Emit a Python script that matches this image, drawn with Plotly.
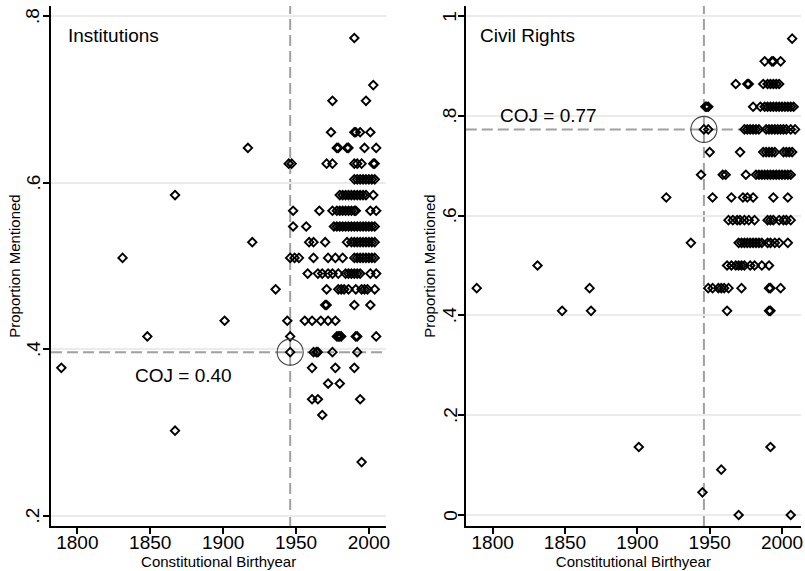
import plotly.graph_objects as go

# ---------------- Institutions panel (53 provisions) ----------------
INST_TOTAL = 53
inst_counts = [41, 38, 37, 35, 34, 33, 32, 31, 30, 29, 28, 27, 26, 25, 24, 23, 22, 21, 20, 19, 18, 17, 16, 14]
inst_years = [
    [1990],
    [2003],
    [1975, 1998],
    [1974, 1990, 1991, 1994, 2001],
    [1917, 1978, 1979, 1985, 1986, 1997, 2005],
    [1945, 1947, 1971, 1975, 1990, 1992, 1995, 2003, 2004],
    [1990, 1992, 1994, 1996, 1998, 2000, 2002, 2004],
    [1867, 1980, 1982, 1984, 1986, 1988, 1990, 1992, 1994, 1996, 1998, 2003],
    [1948, 1966, 1975, 1978, 1980, 1982, 1984, 1986, 1988, 1990, 1991, 2001, 2005],
    [1948, 1957, 1976, 1978, 1980, 1982, 1984, 1986, 1988, 1990, 1992, 1994, 1996, 1998, 2000, 2002, 2004],
    [1920, 1959, 1962, 1970, 1985, 1988, 1990, 1992, 1994, 1996, 1998, 2000, 2002, 2004],
    [1831, 1946, 1949, 1952, 1962, 1972, 1977, 1982, 1990, 1992, 1994, 1996, 1998, 2000, 2002, 2004],
    [1958, 1965, 1968, 1972, 1975, 1979, 1984, 1986, 1988, 1990, 1992, 1994, 2001, 2005],
    [1936, 1971, 1979, 1981, 1983, 1986, 1991, 1995, 1997, 1999, 2004],
    [1970, 1971, 1990, 2001],
    [1901, 1944, 1956, 1961, 1967, 1972, 1977],
    [1848, 1946, 1978, 1979, 1980, 1981, 1991, 1992, 2005],
    [1946, 1962, 1964, 1965, 1975, 1992],
    [1789, 1961, 1977, 1990],
    [1972, 1980],
    [1961, 1965, 1994],
    [1968],
    [1867],
    [1995],
]
inst_japan_year = 1946
inst_japan_count = 21

# ---------------- Civil Rights panel (22 provisions) ----------------
CR_TOTAL = 22
cr_counts = [21, 20, 19, 18, 17, 16, 15, 14, 13, 12, 11, 10, 9, 3, 2, 1, 0]
cr_years = [
    [2007],
    [1988, 1993, 1994, 1999],
    [1968, 1976, 1977, 1987, 1990, 1992, 1994, 1996, 1998],
    [1947, 1948, 1949, 1980, 1985, 1988, 1990, 1992, 1994, 1996, 1998, 2000, 2002, 2004, 2006, 2008],
    [1946, 1949, 1974, 1976, 1978, 1980, 1982, 1984, 1989, 1991, 1993, 1995, 1997, 1999, 2001, 2003, 2006, 2009],
    [1950, 1971, 1987, 1989, 1991, 1993, 1995, 2001, 2003, 2005, 2007],
    [1944, 1959, 1961, 1975, 1982, 1984, 1986, 1988, 1990, 1992, 1994, 1996, 1998, 2000, 2002, 2004, 2006],
    [1920, 1952, 1965, 1973, 1976, 1980, 1994, 2004],
    [1963, 1966, 1969, 1971, 1974, 1977, 1981, 1990, 1992, 1994, 1998, 2001, 2003, 2006],
    [1937, 1970, 1972, 1974, 1976, 1978, 1980, 1982, 1984, 1986, 1990, 1992, 1995, 1998, 2004],
    [1831, 1962, 1965, 1968, 1970, 1972, 1974, 1978, 1981, 1986, 1991],
    [1789, 1867, 1949, 1952, 1956, 1958, 1960, 1963, 1972, 1991, 1992, 1999],
    [1848, 1868, 1962, 1991, 1992],
    [1901, 1992],
    [1958],
    [1945],
    [1970, 2006],
]
cr_japan_year = 1946
cr_japan_count = 17

inst_ticks = [0.2, 0.4, 0.6, 0.8]
inst_ticktext = [".2", ".4", ".6", ".8"]
cr_ticks = [0, 0.2, 0.4, 0.6, 0.8, 1]
cr_ticktext = ["0", ".2", ".4", ".6", ".8", "1"]
year_ticks = [1800, 1850, 1900, 1950, 2000]


def flatten(counts, years, total):
    xs, ys = [], []
    for c, yrs in zip(counts, years):
        for yr in yrs:
            xs.append(yr)
            ys.append(c / total)
    return xs, ys


ix, iy = flatten(inst_counts, inst_years, INST_TOTAL)
cx, cy = flatten(cr_counts, cr_years, CR_TOTAL)
inst_coj = inst_japan_count / INST_TOTAL
cr_coj = cr_japan_count / CR_TOTAL

FONT = "Liberation Sans, Arial, Helvetica, sans-serif"
DASH_COLOR = "#a0a0a0"
marker = dict(symbol="diamond-open", size=6.5, color="black", line=dict(width=1.9, color="black"))
circle = dict(symbol="circle-open", size=26, color="#404040", line=dict(width=1.1, color="#404040"))

fig = go.Figure()
fig.add_trace(go.Scatter(x=ix, y=iy, mode="markers", marker=marker, xaxis="x", yaxis="y", showlegend=False))
fig.add_trace(go.Scatter(x=[inst_japan_year], y=[inst_coj], mode="markers", marker=circle, xaxis="x", yaxis="y", showlegend=False))
fig.add_trace(go.Scatter(x=cx, y=cy, mode="markers", marker=marker, xaxis="x2", yaxis="y2", showlegend=False))
fig.add_trace(go.Scatter(x=[cr_japan_year], y=[cr_coj], mode="markers", marker=circle, xaxis="x2", yaxis="y2", showlegend=False))

dash = "11px,5px"
shapes = [
    dict(type="line", xref="x", yref="y domain", x0=inst_japan_year, x1=inst_japan_year, y0=0, y1=1,
         line=dict(color=DASH_COLOR, width=2, dash=dash), layer="below"),
    dict(type="line", xref="x domain", yref="y", x0=0, x1=1, y0=inst_coj, y1=inst_coj,
         line=dict(color=DASH_COLOR, width=2, dash=dash), layer="below"),
    dict(type="line", xref="x2", yref="y2 domain", x0=cr_japan_year, x1=cr_japan_year, y0=0, y1=1,
         line=dict(color=DASH_COLOR, width=2, dash=dash), layer="below"),
    dict(type="line", xref="x2 domain", yref="y2", x0=0, x1=1, y0=cr_coj, y1=cr_coj,
         line=dict(color=DASH_COLOR, width=2, dash=dash), layer="below"),
]

label_font = dict(size=19, color="black", family=FONT)
annotations = [
    dict(text="Institutions", xref="x domain", yref="y domain", x=0.044, y=0.944, xanchor="left", yanchor="middle",
         showarrow=False, font=label_font),
    dict(text="COJ = 0.40", xref="x domain", yref="y domain", x=0.246, y=0.289, xanchor="left", yanchor="middle",
         showarrow=False, font=label_font),
    dict(text="Civil Rights", xref="x2 domain", yref="y2 domain", x=0.036, y=0.944, xanchor="left", yanchor="middle",
         showarrow=False, font=label_font),
    dict(text="COJ = 0.77", xref="x2 domain", yref="y2 domain", x=0.097, y=0.790, xanchor="left", yanchor="middle",
         showarrow=False, font=label_font),
]
# vertical (Stata-style) y tick labels
tick_font = dict(size=19, color="black", family=FONT)
for v, t in zip(inst_ticks, inst_ticktext):
    annotations.append(dict(text=t, xref="x domain", yref="y", x=0, y=v, xshift=-18, xanchor="center",
                            yanchor="middle", textangle=-90, showarrow=False, font=tick_font))
for v, t in zip(cr_ticks, cr_ticktext):
    annotations.append(dict(text=t, xref="x2 domain", yref="y2", x=0, y=v, xshift=-16, xanchor="center",
                            yanchor="middle", textangle=-90, showarrow=False, font=tick_font))

xcommon = dict(tickvals=year_ticks, ticks="outside", ticklen=6, tickwidth=1.5, tickcolor="black",
               showline=True, linecolor="black", linewidth=2, showgrid=False, zeroline=False,
               tickfont=tick_font, ticklabelstandoff=-8,
               title=dict(text="Constitutional Birthyear", font=dict(size=15, color="black", family=FONT), standoff=1))
ycommon = dict(ticks="outside", ticklen=6, tickwidth=1.5, tickcolor="black", showticklabels=False,
               showline=True, linecolor="black", linewidth=2, showgrid=True, gridcolor="#ebebeb", gridwidth=1.5,
               zeroline=False,
               title=dict(text="Proportion Mentioned", font=dict(size=15, color="black", family=FONT), standoff=19))

fig.update_layout(
    width=805, height=571,
    margin=dict(l=51, r=0, t=6, b=45),
    paper_bgcolor="white", plot_bgcolor="white",
    font=dict(family=FONT, color="black"),
    xaxis=dict(domain=[0, 0.447], range=[1781.9, 2011.9], anchor="y", **xcommon),
    yaxis=dict(domain=[0, 1], range=[0.1874, 0.812], anchor="x", tickvals=inst_ticks, **ycommon),
    xaxis2=dict(domain=[0.553, 1], range=[1781.4, 2013.1], anchor="y2", **xcommon),
    yaxis2=dict(domain=[0, 1], range=[-0.022, 1.02], anchor="x2", tickvals=cr_ticks, **ycommon),
    shapes=shapes,
    annotations=annotations,
    showlegend=False,
)

fig.write_html("out.html")
